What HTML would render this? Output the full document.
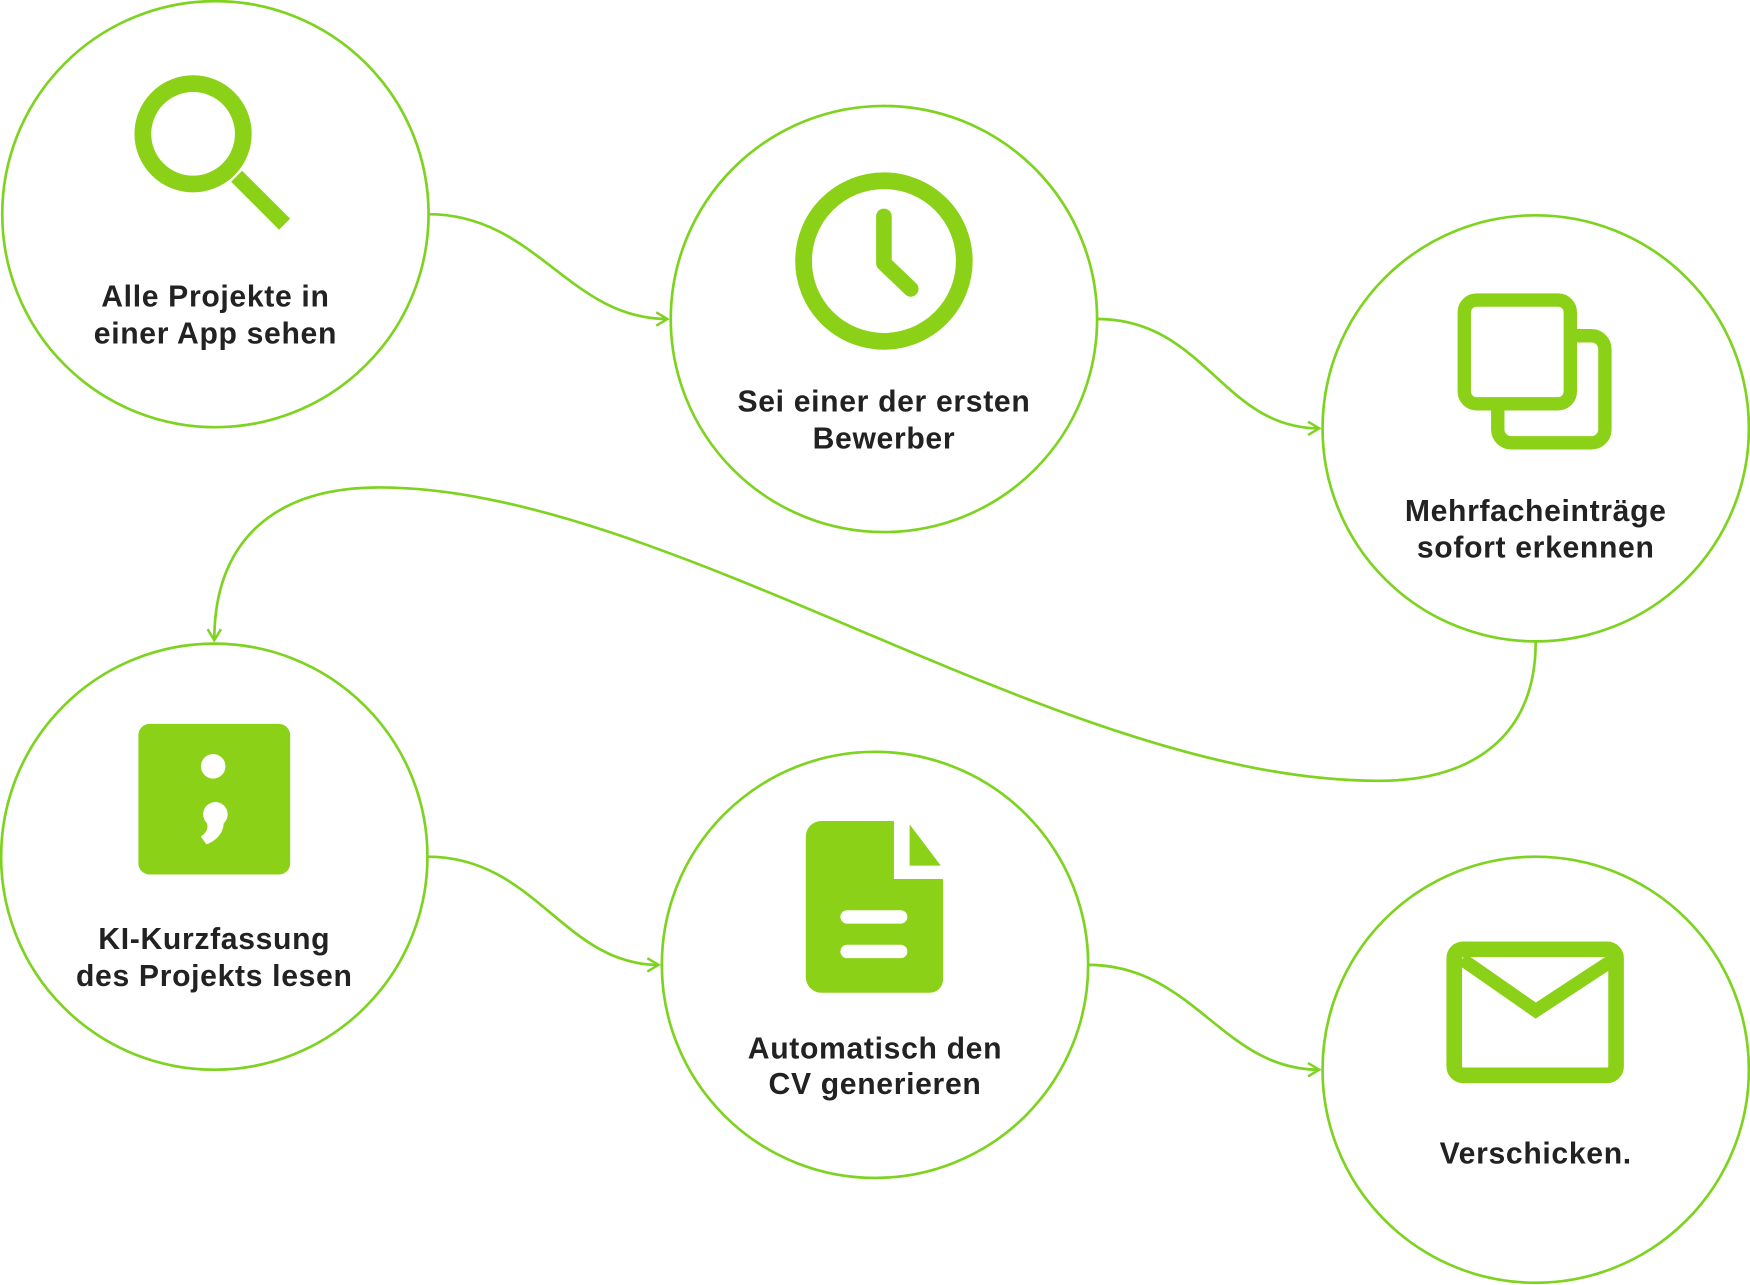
<!DOCTYPE html>
<html><head><meta charset="utf-8"><style>html,body{margin:0;padding:0;background:#fff}svg{display:block}</style></head>
<body>
<svg width="1750" height="1285" viewBox="0 0 1568 1152" preserveAspectRatio="none" xmlns="http://www.w3.org/2000/svg">
<defs>
<marker id="a" markerWidth="14" markerHeight="14" refX="12" refY="7" orient="auto" markerUnits="userSpaceOnUse">
<path d="M2,1 L12,7 L2,13" fill="none" stroke="#7ed321" stroke-width="2.2"/>
</marker>
</defs>
<g fill="none" stroke="#7ed321" stroke-width="2.4">
<circle cx="193" cy="192" r="191"/>
<circle cx="792" cy="286" r="191"/>
<circle cx="1376" cy="384" r="191"/>
<circle cx="192" cy="768" r="191"/>
<circle cx="784" cy="865" r="191"/>
<circle cx="1376" cy="959" r="191"/>
<path d="M384,192 C480,192 510,286 598,286" marker-end="url(#a)"/>
<path d="M983,286 C1080,286 1095,384 1182,384" marker-end="url(#a)"/>
<path d="M1376,575 C1376,660 1320,700 1235,700 C950,700 600,437 340,437 C240,437 192,490 192,574" marker-end="url(#a)"/>
<path d="M383,768 C480,768 505,865 590,865" marker-end="url(#a)"/>
<path d="M975,865 C1070,865 1095,959 1182,959" marker-end="url(#a)"/>
</g>
<g fill="none" stroke="#8bd118">
<circle cx="173" cy="120" r="45" stroke-width="15"/>
<path d="M212,158 L255,201" stroke-width="14"/>
<circle cx="792" cy="234" r="72" stroke-width="15"/>
<path d="M792,194 L792,236 L816,259" stroke-width="14" stroke-linecap="round" stroke-linejoin="round"/>
<rect x="1312" y="269" width="95" height="93" rx="11" stroke-width="12"/>
<path d="M1410,301 h16 a12,12 0 0 1 12,12 v72 a12,12 0 0 1 -12,12 h-72 a12,12 0 0 1 -12,-12 v-20" stroke-width="12"/>
<rect x="1303" y="851" width="145" height="113" rx="8" stroke-width="14"/>
<path d="M1310,860 L1376,906 L1446,860" stroke-width="12"/>
</g>
<g fill="#8bd118">
<rect x="124" y="649" width="136" height="135" rx="10"/>
<path d="M736,736 H801 V788 H845 V878 a12,12 0 0 1 -12,12 H736 a14,14 0 0 1 -14,-14 V750 a14,14 0 0 1 14,-14 Z"/>
<path d="M815,739 L843,776 H815 Z"/>
</g>
<g fill="#fff">
<circle cx="191" cy="687" r="11"/>
<circle cx="193" cy="730" r="11"/>
<path d="M197,726 C205,740 198,752 185,757 L180,750 C187,745 187,740 184,735 Z"/>
<rect x="753" y="816" width="60" height="12" rx="6"/>
<rect x="753" y="847" width="60" height="12" rx="6"/>
</g>
<g font-family="Liberation Sans, sans-serif" font-weight="bold" font-size="27" letter-spacing="0.6" fill="#222" text-anchor="middle">
<text x="193" y="275">Alle Projekte in</text>
<text x="193" y="308">einer App sehen</text>
<text x="792" y="369">Sei einer der ersten</text>
<text x="792" y="402">Bewerber</text>
<text x="1376" y="467">Mehrfacheinträge</text>
<text x="1376" y="500">sofort erkennen</text>
<text x="192" y="851">KI-Kurzfassung</text>
<text x="192" y="884">des Projekts lesen</text>
<text x="784" y="949">Automatisch den</text>
<text x="784" y="981">CV generieren</text>
<text x="1376" y="1043">Verschicken.</text>
</g>
</svg>
</body></html>
